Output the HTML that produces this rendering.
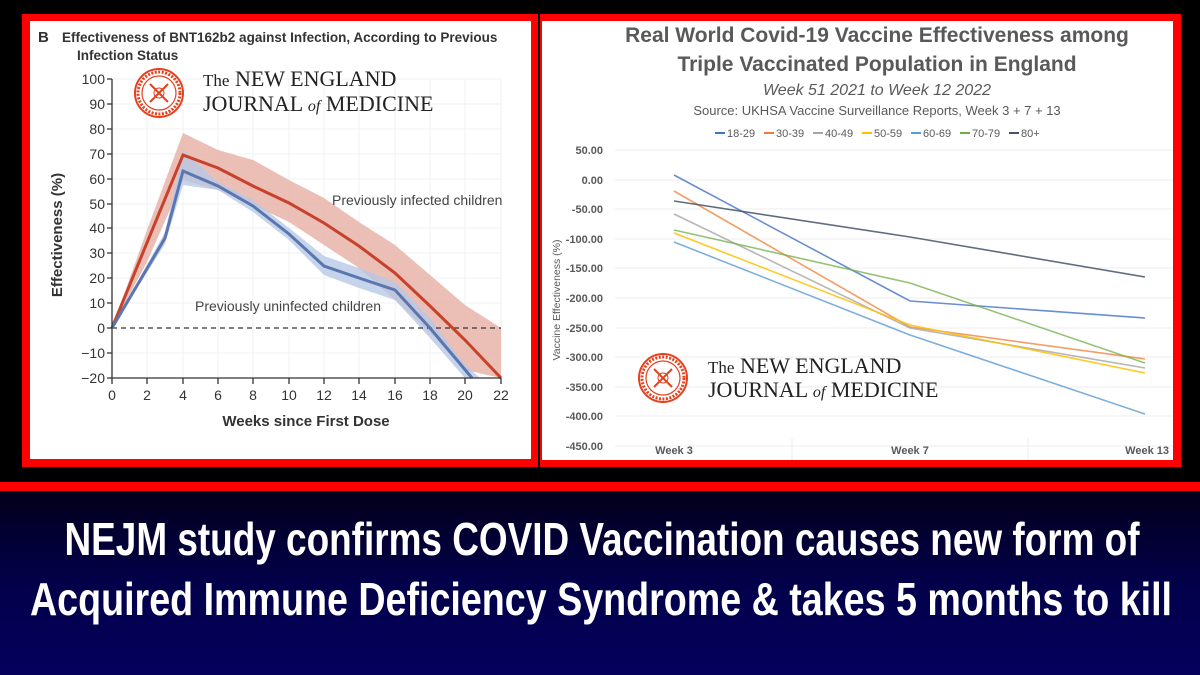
<!DOCTYPE html>
<html><head><meta charset="utf-8"><style>
html,body{margin:0;padding:0;background:#000;}
body{width:1200px;height:675px;overflow:hidden;position:relative;font-family:"Liberation Sans",sans-serif;}
</style></head><body>
<svg width="1200" height="675" viewBox="0 0 1200 675" xmlns="http://www.w3.org/2000/svg" style="position:absolute;left:0;top:0">
<defs>
<linearGradient id="bg" x1="0" y1="0" x2="0" y2="1">
<stop offset="0" stop-color="#02001a"/><stop offset="0.5" stop-color="#03004a"/><stop offset="1" stop-color="#04005c"/>
</linearGradient>
<g id="seal">
<circle r="24" fill="#fff" stroke="#e8401c" stroke-width="2"/>
<circle r="17" fill="none" stroke="#e8401c" stroke-width="1.2"/>
<circle r="21" fill="none" stroke="#e8401c" stroke-width="3" stroke-dasharray="2 1.5"/>
<path d="M-9,-9 L9,9 M9,-9 L-9,9" stroke="#e8401c" stroke-width="2"/>
<circle r="5" fill="none" stroke="#e8401c" stroke-width="1"/>
</g>
</defs>
<rect width="1200" height="675" fill="#000"/>
<rect x="0" y="491" width="1200" height="184" fill="url(#bg)"/>
<rect x="0" y="482" width="1200" height="9" fill="#f00"/>
<rect x="22" y="14" width="516" height="453" fill="#f00"/>
<rect x="30" y="21" width="501" height="438" fill="#fff"/>
<rect x="540" y="14" width="641" height="453" fill="#f00"/>
<rect x="542" y="21" width="631" height="439" fill="#fff"/>

<g font-family="Liberation Sans,sans-serif" fill="#333">
<text x="38" y="42" font-size="15" font-weight="bold">B</text>
<text x="62" y="42" font-size="13.5" font-weight="bold">Effectiveness of BNT162b2 against Infection, According to Previous</text>
<text x="77" y="60" font-size="13.5" font-weight="bold">Infection Status</text>
</g>
<g stroke="#eef0f4" stroke-width="1" fill="none">
<path d="M112,79H501M112,104H501M112,129H501M112,154H501M112,179H501M112,204H501M112,228H501M112,253H501M112,278H501M112,303H501M112,353H501"/>
<path d="M147,79V378M183,79V378M218,79V378M253,79V378M289,79V378M324,79V378M359,79V378M395,79V378M430,79V378M465,79V378M501,79V378"/>
</g>
<path d="M112,328 L147,230 L183,133 L218,150 L253,160 L289,180 L324,198 L359,222 L395,245 L430,275 L465,305 L501,328 L501,378 L465,370 L430,333 L395,300 L359,268 L324,245 L289,222 L253,205 L218,190 L183,180 L147,262 Z" fill="#e8b4a8" opacity="0.85"/>
<path d="M112,328 L165,232 L183,150 L218,182 L253,200 L289,228 L324,256 L359,268 L395,282 L430,318 L465,365 L480,378 L465,378 L430,338 L395,300 L359,288 L324,275 L289,240 L253,212 L218,190 L183,185 L165,244 Z" fill="#b7c8e6" opacity="0.8"/>
<line x1="112" y1="328" x2="501" y2="328" stroke="#333" stroke-width="1.2" stroke-dasharray="5 4"/>
<polyline fill="none" stroke="#c8412b" stroke-width="3" points="112,328 183,155 218,168 253,186 289,203 324,223 359,246 395,273 430,306 465,340 501,378"/>
<polyline fill="none" stroke="#5a76b0" stroke-width="3" points="112,328 165,238 183,171 218,186 253,206 289,234 324,266 359,278 395,290 430,328 472,378"/>
<g stroke="#333" stroke-width="1.3" fill="none">
<path d="M112,79V378H501"/>
<path d="M107,79H112M107,104H112M107,129H112M107,154H112M107,179H112M107,204H112M107,228H112M107,253H112M107,278H112M107,303H112M107,328H112M107,353H112M107,378H112"/>
<path d="M112,378V384M147,378V384M183,378V384M218,378V384M253,378V384M289,378V384M324,378V384M359,378V384M395,378V384M430,378V384M465,378V384M501,378V384"/>
</g>
<g font-family="Liberation Sans,sans-serif" font-size="14" fill="#333" text-anchor="end">
<text x="105" y="84">100</text><text x="105" y="109">90</text><text x="105" y="134">80</text><text x="105" y="159">70</text><text x="105" y="184">60</text><text x="105" y="209">50</text><text x="105" y="233">40</text><text x="105" y="258">30</text><text x="105" y="283">20</text><text x="105" y="308">10</text><text x="105" y="333">0</text><text x="105" y="358">−10</text><text x="105" y="383">−20</text>
</g>
<g font-family="Liberation Sans,sans-serif" font-size="14" fill="#333" text-anchor="middle">
<text x="112" y="400">0</text><text x="147" y="400">2</text><text x="183" y="400">4</text><text x="218" y="400">6</text><text x="253" y="400">8</text><text x="289" y="400">10</text><text x="324" y="400">12</text><text x="359" y="400">14</text><text x="395" y="400">16</text><text x="430" y="400">18</text><text x="465" y="400">20</text><text x="501" y="400">22</text>
<text x="306" y="426" font-size="15" font-weight="bold">Weeks since First Dose</text>
<text transform="translate(62,235) rotate(-90)" font-size="15" font-weight="bold">Effectiveness (%)</text>
</g>
<g font-family="Liberation Sans,sans-serif" font-size="14" fill="#444">
<text x="332" y="205">Previously infected children</text>
<text x="195" y="311">Previously uninfected children</text>
</g>
<use href="#seal" x="159" y="93"/>
<g font-family="Liberation Serif,serif" fill="#222">
<text x="203" y="86" font-size="22"><tspan font-size="17">The</tspan> NEW ENGLAND</text>
<text x="203" y="111" font-size="22">JOURNAL <tspan font-size="16" font-style="italic">of</tspan> MEDICINE</text>
</g>

<g font-family="Liberation Sans,sans-serif" fill="#595959" text-anchor="middle">
<text x="877" y="42" font-size="21" font-weight="bold">Real World Covid-19 Vaccine Effectiveness among</text>
<text x="877" y="71" font-size="21" font-weight="bold">Triple Vaccinated Population in England</text>
<text x="877" y="95" font-size="16" font-style="italic">Week 51 2021 to Week 12 2022</text>
<text x="877" y="115" font-size="13">Source: UKHSA Vaccine Surveillance Reports, Week 3 + 7 + 13</text>
</g>
<g font-family="Liberation Sans,sans-serif" font-size="11" fill="#595959">
<line x1="715" y1="133" x2="725" y2="133" stroke="#4472c4" stroke-width="2"/><text x="727" y="137">18-29</text>
<line x1="764" y1="133" x2="774" y2="133" stroke="#ed7d31" stroke-width="2"/><text x="776" y="137">30-39</text>
<line x1="813" y1="133" x2="823" y2="133" stroke="#a5a5a5" stroke-width="2"/><text x="825" y="137">40-49</text>
<line x1="862" y1="133" x2="872" y2="133" stroke="#ffc000" stroke-width="2"/><text x="874" y="137">50-59</text>
<line x1="911" y1="133" x2="921" y2="133" stroke="#5b9bd5" stroke-width="2"/><text x="923" y="137">60-69</text>
<line x1="960" y1="133" x2="970" y2="133" stroke="#70ad47" stroke-width="2"/><text x="972" y="137">70-79</text>
<line x1="1009" y1="133" x2="1019" y2="133" stroke="#44546a" stroke-width="2"/><text x="1021" y="137">80+</text>
</g>
<g stroke="#ececec" stroke-width="1" fill="none">
<path d="M615,150H1173M615,180H1173M615,209H1173M615,239H1173M615,268H1173M615,298H1173M615,328H1173M615,357H1173M615,387H1173M615,416H1173M615,446H1173"/>
<path d="M792,438V460M1028,438V460"/>
</g>
<g font-family="Liberation Sans,sans-serif" font-size="11" font-weight="bold" fill="#595959" text-anchor="end">
<text x="603" y="154">50.00</text><text x="603" y="184">0.00</text><text x="603" y="213">-50.00</text><text x="603" y="243">-100.00</text><text x="603" y="272">-150.00</text><text x="603" y="302">-200.00</text><text x="603" y="332">-250.00</text><text x="603" y="361">-300.00</text><text x="603" y="391">-350.00</text><text x="603" y="420">-400.00</text><text x="603" y="450">-450.00</text>
</g>
<g font-family="Liberation Sans,sans-serif" font-size="11" font-weight="bold" fill="#595959" text-anchor="middle">
<text x="674" y="454">Week 3</text><text x="910" y="454">Week 7</text><text x="1169" y="454" text-anchor="end">Week 13</text>
<text transform="translate(560,300) rotate(-90)" font-weight="normal" font-size="10.5">Vaccine Effectiveness (%)</text>
</g>
<g fill="none" stroke-width="1.6">
<polyline stroke="#4472c4" opacity="0.8" points="674,175 910,301 1145,318"/>
<polyline stroke="#ed7d31" opacity="0.75" points="674,191 910,327 1145,359"/>
<polyline stroke="#a5a5a5" opacity="0.8" points="674,214 910,328 1145,368"/>
<polyline stroke="#ffc000" opacity="0.85" points="674,233 910,325 1145,373"/>
<polyline stroke="#5b9bd5" opacity="0.8" points="674,242 910,335 1145,414"/>
<polyline stroke="#70ad47" opacity="0.75" points="674,230 910,283 1145,363"/>
<polyline stroke="#44546a" opacity="0.85" points="674,201 910,237 1145,277"/>
</g>
<use href="#seal" x="663" y="378"/>
<g font-family="Liberation Serif,serif" fill="#222">
<text x="708" y="373" font-size="22"><tspan font-size="17">The</tspan> NEW ENGLAND</text>
<text x="708" y="397" font-size="22">JOURNAL <tspan font-size="16" font-style="italic">of</tspan> MEDICINE</text>
</g>

<g font-family="Liberation Sans Narrow,Liberation Sans,sans-serif" font-weight="bold" fill="#fff" text-anchor="middle" font-size="46">
<text x="602" y="555" textLength="1075" lengthAdjust="spacingAndGlyphs">NEJM study confirms COVID Vaccination causes new form of</text>
<text x="601" y="615" textLength="1142" lengthAdjust="spacingAndGlyphs">Acquired Immune Deficiency Syndrome &amp; takes 5 months to kill</text>
</g>
</svg>
</body></html>
